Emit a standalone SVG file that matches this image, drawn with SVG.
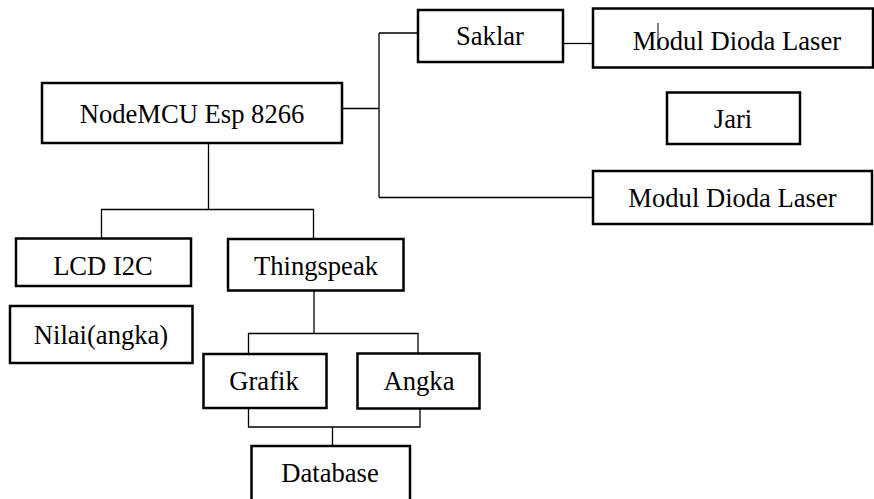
<svg xmlns="http://www.w3.org/2000/svg" width="874" height="499" viewBox="0 0 874 499">
<style>
.box{fill:#fff;stroke:#000;stroke-width:2.5}
.t{font-family:"Liberation Serif","Times New Roman",serif;font-size:26.6px;fill:#000;text-anchor:middle}
.c{fill:none;stroke:#000;stroke-width:1.3}
</style>
<rect width="874" height="499" fill="#fff"/>
<g id="connectors">
<path class="c" d="M342 108.5H379M379 33V197.5M379 33H418M379 197.5H593"/>
<path class="c" d="M563 43.5H593"/>
<path class="c" d="M208.5 143V209.5M101.5 238V209.5H313.5V239"/>
<path class="c" d="M314 291V333.5M248.5 354V333.5H418V354"/>
<path class="c" d="M248.5 408V427H420V408M332.5 427V446"/>
</g>
<g id="nodemcu"><rect class="box" x="42" y="83" width="300" height="60"/><text class="t" x="192" y="123">NodeMCU Esp 8266</text></g>
<g id="saklar"><rect class="box" x="418" y="10" width="145" height="52"/><text class="t" x="490" y="45">Saklar</text></g>
<g id="modul1"><rect class="box" x="593" y="8.5" width="280" height="59"/><text class="t" x="737" y="50">Modul Dioda Laser</text><line x1="658" y1="23" x2="658" y2="50" stroke="#000" stroke-width="1"/></g>
<g id="jari"><rect class="box" x="667" y="92.5" width="133" height="51.5"/><text class="t" x="733" y="128">Jari</text></g>
<g id="modul2"><rect class="box" x="593" y="171" width="279" height="53"/><text class="t" x="732.5" y="207">Modul Dioda Laser</text></g>
<g id="lcd"><rect class="box" x="16" y="238.5" width="175" height="47.5"/><text class="t" x="103" y="275">LCD I2C</text></g>
<g id="thingspeak"><rect class="box" x="228" y="239" width="175.5" height="51.5"/><text class="t" x="316" y="275">Thingspeak</text></g>
<g id="nilai"><rect class="box" x="10" y="306" width="182.5" height="57"/><text class="t" x="101" y="344">Nilai(angka)</text></g>
<g id="grafik"><rect class="box" x="203.5" y="354" width="123" height="54"/><text class="t" x="264" y="390">Grafik</text></g>
<g id="angka"><rect class="box" x="357.5" y="353.5" width="122" height="55"/><text class="t" x="419" y="390">Angka</text></g>
<g id="database"><rect class="box" x="251.5" y="446" width="158.5" height="60"/><text class="t" x="330" y="482">Database</text></g>
</svg>
